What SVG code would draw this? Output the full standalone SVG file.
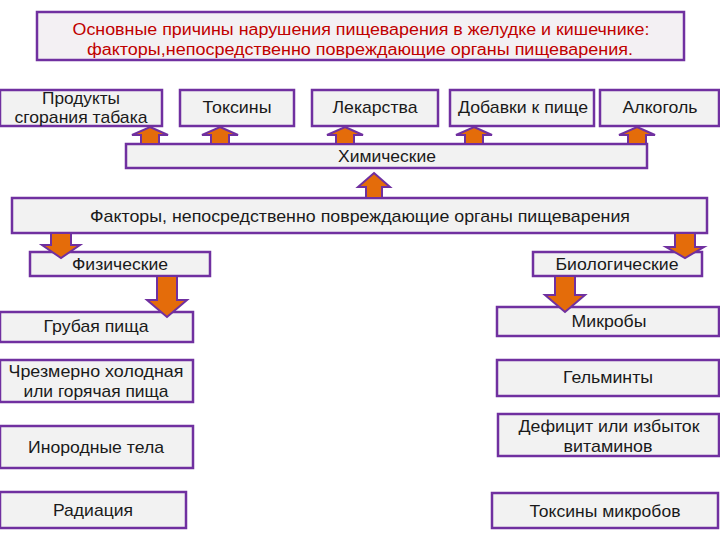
<svg xmlns="http://www.w3.org/2000/svg" width="720" height="540" viewBox="0 0 720 540">
<style>
.box{fill:#f2f2f2;stroke:#7030a0;stroke-width:2.5}
.t{font-family:"Liberation Sans",Arial,sans-serif;font-size:17px;fill:#1a1a1a;text-anchor:middle}
.title{font-family:"Liberation Sans",Arial,sans-serif;font-size:16px;fill:#c00000;text-anchor:middle}
.arr{fill:#e46c0a;stroke:#7030a0;stroke-width:2;stroke-linejoin:miter}
</style>
<rect width="720" height="540" fill="#ffffff"/>
<g id="title">
<rect class="box" x="37" y="12" width="647" height="48" style="fill:#f3f0f3"/>
<text class="title" x="361" y="35" textLength="577" lengthAdjust="spacingAndGlyphs">Основные причины нарушения пищеварения в желудке и кишечнике:</text>
<text class="title" x="360" y="55" textLength="546" lengthAdjust="spacingAndGlyphs">факторы,непосредственно  повреждающие органы пищеварения.</text>
</g>
<g id="tabak">
<rect class="box" x="0" y="90" width="162" height="36"/>
<text class="t" x="81" y="104" textLength="78" lengthAdjust="spacingAndGlyphs">Продукты</text>
<text class="t" x="81" y="123" textLength="133" lengthAdjust="spacingAndGlyphs">сгорания табака</text>
</g>
<g id="toksiny">
<rect class="box" x="180" y="90" width="114" height="36"/>
<text class="t" x="237" y="113" textLength="69" lengthAdjust="spacingAndGlyphs">Токсины</text>
</g>
<g id="lekarstva">
<rect class="box" x="312" y="90" width="126" height="36"/>
<text class="t" x="375" y="113" textLength="85" lengthAdjust="spacingAndGlyphs">Лекарства</text>
</g>
<g id="dobavki">
<rect class="box" x="450" y="90" width="144" height="36"/>
<text class="t" x="523" y="113" textLength="130" lengthAdjust="spacingAndGlyphs">Добавки к пище</text>
</g>
<g id="alkogol">
<rect class="box" x="600" y="90" width="119" height="36"/>
<text class="t" x="660" y="113" textLength="75" lengthAdjust="spacingAndGlyphs">Алкоголь</text>
</g>
<g id="himicheskie">
<rect class="box" x="126" y="144" width="521" height="24"/>
<text class="t" x="387" y="162" textLength="98" lengthAdjust="spacingAndGlyphs">Химические</text>
</g>
<g id="faktory">
<rect class="box" x="12" y="198" width="695" height="35"/>
<text class="t" x="360" y="222" textLength="540" lengthAdjust="spacingAndGlyphs">Факторы, непосредственно повреждающие органы пищеварения</text>
</g>
<g id="fizicheskie">
<rect class="box" x="30" y="252" width="180" height="24"/>
<text class="t" x="120" y="270" textLength="96" lengthAdjust="spacingAndGlyphs">Физические</text>
</g>
<g id="biologicheskie">
<rect class="box" x="533" y="252" width="169" height="24"/>
<text class="t" x="617" y="270" textLength="123" lengthAdjust="spacingAndGlyphs">Биологические</text>
</g>
<g id="grubaya">
<rect class="box" x="0" y="312" width="193" height="30"/>
<text class="t" x="96" y="332" textLength="105" lengthAdjust="spacingAndGlyphs">Грубая пища</text>
</g>
<g id="holodnaya">
<rect class="box" x="0" y="360" width="193" height="42"/>
<text class="t" x="96" y="377" textLength="175" lengthAdjust="spacingAndGlyphs">Чрезмерно холодная</text>
<text class="t" x="96" y="397" textLength="145" lengthAdjust="spacingAndGlyphs">или горячая пища</text>
</g>
<g id="inorodnye">
<rect class="box" x="0" y="426" width="193" height="42"/>
<text class="t" x="96" y="453" textLength="136" lengthAdjust="spacingAndGlyphs">Инородные тела</text>
</g>
<g id="radiaciya">
<rect class="box" x="0" y="492" width="186" height="36"/>
<text class="t" x="93" y="516" textLength="80" lengthAdjust="spacingAndGlyphs">Радиация</text>
</g>
<g id="mikroby">
<rect class="box" x="497" y="307" width="222" height="29"/>
<text class="t" x="609" y="327" textLength="75" lengthAdjust="spacingAndGlyphs">Микробы</text>
</g>
<g id="gelminty">
<rect class="box" x="497" y="360" width="222" height="36"/>
<text class="t" x="608" y="383" textLength="90" lengthAdjust="spacingAndGlyphs">Гельминты</text>
</g>
<g id="deficit">
<rect class="box" x="498" y="414" width="221" height="42"/>
<text class="t" x="609" y="432" textLength="181" lengthAdjust="spacingAndGlyphs">Дефицит или избыток</text>
<text class="t" x="608" y="452" textLength="89" lengthAdjust="spacingAndGlyphs">витаминов</text>
</g>
<g id="toksiny-mikrobov">
<rect class="box" x="492" y="493" width="226" height="35"/>
<text class="t" x="605" y="517" textLength="151" lengthAdjust="spacingAndGlyphs">Токсины микробов</text>
</g>
<g id="connectors">
<path class="arr" d="M150,127 L168,135 L159,135 L159,144 L141,144 L141,135 L132,135 Z"/>
<path class="arr" d="M220,127 L238,135 L229,135 L229,144 L211,144 L211,135 L202,135 Z"/>
<path class="arr" d="M345,127 L363,135 L354,135 L354,144 L336,144 L336,135 L327,135 Z"/>
<path class="arr" d="M474,127 L492,135 L483,135 L483,144 L465,144 L465,135 L456,135 Z"/>
<path class="arr" d="M637,127 L655,135 L646,135 L646,144 L628,144 L628,135 L619,135 Z"/>
<path class="arr" d="M374,173 L390,187 L382,187 L382,198 L366,198 L366,187 L358,187 Z"/>
<path class="arr" d="M51,233 L71,233 L71,245 L80,245 L61,258 L42,245 L51,245 Z"/>
<path class="arr" d="M157,276 L177,276 L177,300 L187,300 L167,317 L147,300 L157,300 Z"/>
<path class="arr" d="M675,233 L695,233 L695,247 L704,247 L685,258 L666,247 L675,247 Z"/>
<path class="arr" d="M555,276 L575,276 L575,295 L585,295 L565,312 L545,295 L555,295 Z"/>
</g>
</svg>
